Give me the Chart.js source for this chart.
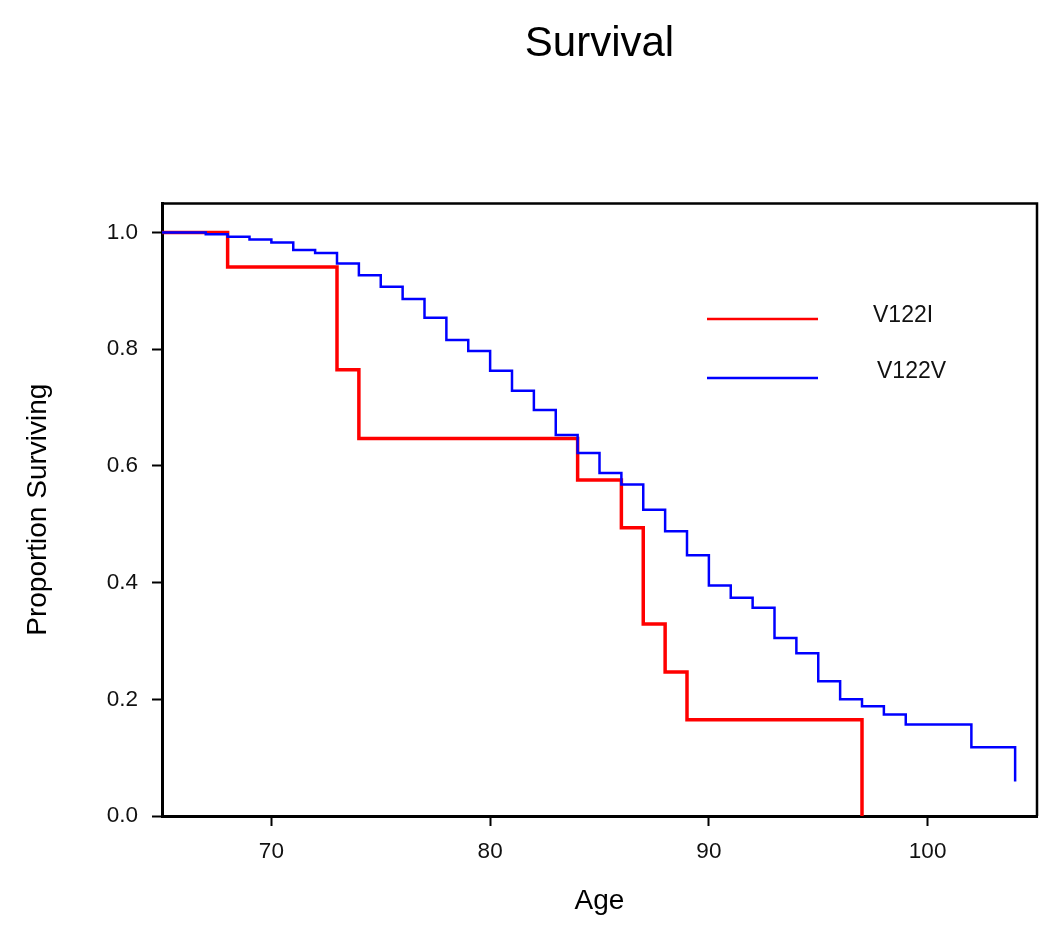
<!DOCTYPE html>
<html>
<head>
<meta charset="utf-8">
<title>Survival</title>
<script src="https://cdn.jsdelivr.net/npm/chart.js@4.4.1/dist/chart.umd.min.js"></script>
<style>
  html, body { margin: 0; padding: 0; background: #fff; }
  #wrap { width: 1050px; height: 943px; position: relative; }
</style>
</head>
<body>
<div id="wrap"><canvas id="chart"></canvas></div>
<script>
// Kaplan-Meier steps (age, proportion surviving after the drop)
const redAges = [65, 68, 73, 74, 84, 86, 87, 88, 89, 97];
const redSurv = [1.0, 0.941, 0.765, 0.647, 0.576, 0.494, 0.329, 0.247, 0.165, 0.0];

const blueAges = [65, 67, 68, 69, 70, 71, 72, 73, 74, 75, 76, 77, 78, 79, 80, 81, 82, 83, 84,
  85, 86, 87, 88, 89, 90, 91, 92, 93, 94, 95, 96, 97, 98, 99, 102, 104];
const blueSurv = [1.0, 0.997, 0.993, 0.988, 0.983, 0.970, 0.965, 0.947, 0.927, 0.907, 0.886,
  0.854, 0.816, 0.797, 0.763, 0.729, 0.696, 0.653, 0.622, 0.588, 0.568, 0.525, 0.488, 0.447,
  0.395, 0.374, 0.357, 0.305, 0.279, 0.231, 0.200, 0.188, 0.174, 0.157, 0.118, 0.059];

const xTicks = [70, 80, 90, 100];
const yTicks = [0.0, 0.2, 0.4, 0.6, 0.8, 1.0];
const seriesNames = ['V122I', 'V122V'];

const FONT = '"Liberation Sans", Arial, sans-serif';

function toPoints(xs, ys) {
  return xs.map((x, i) => ({ x: x, y: ys[i] }));
}

// top and right edges of the frame
const frameBox = {
  id: 'frameBox',
  afterDatasetsDraw(chart) {
    const { ctx, chartArea: a } = chart;
    ctx.save();
    ctx.strokeStyle = '#000';
    ctx.lineWidth = 2.5;
    ctx.beginPath();
    ctx.moveTo(a.left, a.top);
    ctx.lineTo(a.right, a.top);
    ctx.lineTo(a.right, a.bottom);
    ctx.stroke();
    ctx.restore();
  }
};

// legend drawn inside the plot like the original
const insideLegend = {
  id: 'insideLegend',
  afterDraw(chart) {
    const ctx = chart.ctx;
    const rows = [
      { color: '#ff0000', y: 319, tx: 873, ty: 316 },
      { color: '#0000ff', y: 378, tx: 877, ty: 372 }
    ];
    ctx.save();
    ctx.font = '23px ' + FONT;
    ctx.textBaseline = 'middle';
    ctx.textAlign = 'left';
    rows.forEach((r, i) => {
      ctx.strokeStyle = r.color;
      ctx.lineWidth = 2.5;
      ctx.beginPath();
      ctx.moveTo(707, r.y);
      ctx.lineTo(818, r.y);
      ctx.stroke();
      ctx.fillStyle = '#111';
      ctx.fillText(seriesNames[i], r.tx, r.ty);
    });
    ctx.restore();
  }
};

new Chart(document.getElementById('chart'), {
  type: 'line',
  data: {
    datasets: [
      {
        label: seriesNames[1],
        data: toPoints(blueAges, blueSurv),
        borderColor: '#0000ff',
        borderWidth: 2.5,
        stepped: 'before',
        pointRadius: 0,
        fill: false
      },
      {
        label: seriesNames[0],
        data: toPoints(redAges, redSurv),
        borderColor: '#ff0000',
        borderWidth: 3.5,
        stepped: 'before',
        pointRadius: 0,
        fill: false
      }
    ]
  },
  options: {
    responsive: true,
    maintainAspectRatio: false,
    animation: false,
    layout: { padding: { left: 0, right: 13, top: 0, bottom: 0 } },
    plugins: {
      legend: { display: false },
      tooltip: { enabled: false },
      title: {
        display: true,
        text: 'Survival',
        fullSize: false,
        color: '#000',
        font: { family: FONT, size: 42, weight: 'normal' },
        padding: { top: 19, bottom: 134 }
      }
    },
    scales: {
      x: {
        type: 'linear',
        min: 65,
        max: 105,
        afterBuildTicks: s => { s.ticks = xTicks.map(v => ({ value: v })); },
        afterFit: s => { s.height = 127; },
        grid: { drawOnChartArea: false, drawTicks: true, tickLength: 10, color: '#000', tickWidth: 2 },
        border: { display: true, color: '#000', width: 3 },
        ticks: {
          color: '#111',
          padding: 12,
          maxRotation: 0,
          font: { family: FONT, size: 22.5 },
          callback: v => String(v)
        },
        title: {
          display: true,
          text: 'Age',
          color: '#000',
          font: { family: FONT, size: 28 },
          padding: { top: 0, bottom: 25 }
        }
      },
      y: {
        type: 'linear',
        min: 0,
        max: 1.05,
        afterBuildTicks: s => { s.ticks = yTicks.map(v => ({ value: v })); },
        afterFit: s => { s.width = 162; },
        grid: { drawOnChartArea: false, drawTicks: true, tickLength: 10, color: '#000', tickWidth: 2 },
        border: { display: true, color: '#000', width: 3 },
        ticks: {
          color: '#111',
          padding: 14,
          font: { family: FONT, size: 22.5 },
          callback: v => Number(v).toFixed(1)
        },
        title: {
          display: true,
          text: 'Proportion Surviving',
          color: '#000',
          font: { family: FONT, size: 28 },
          padding: { top: 21, bottom: 0 }
        }
      }
    }
  },
  plugins: [frameBox, insideLegend]
});
</script>
</body>
</html>
